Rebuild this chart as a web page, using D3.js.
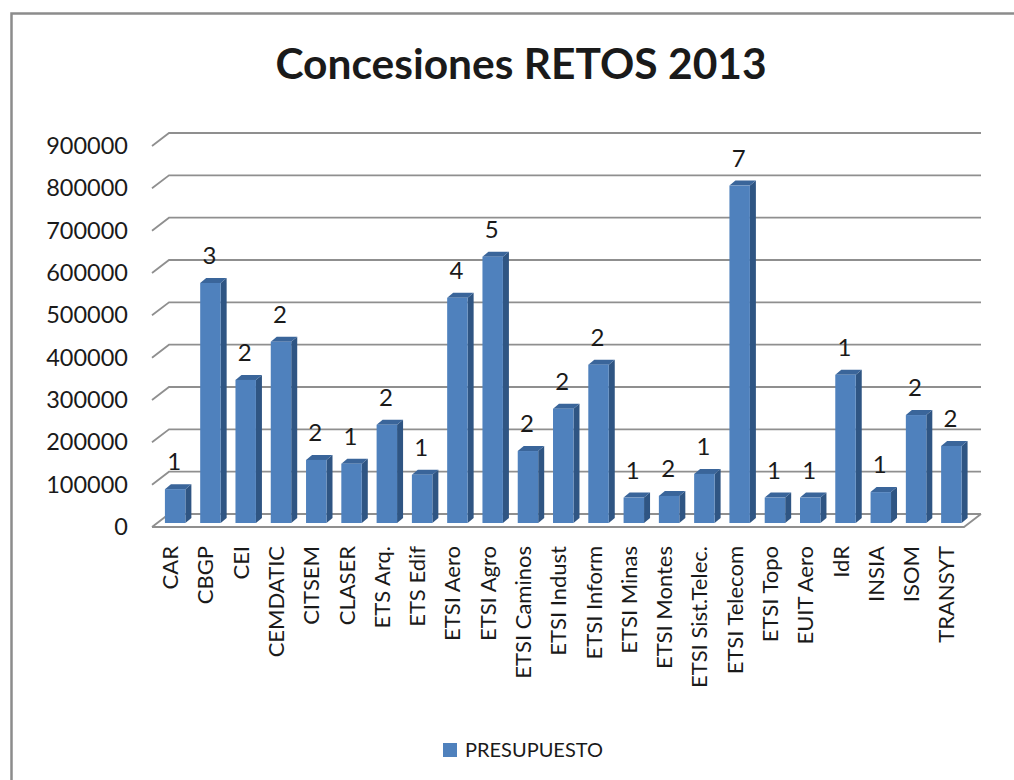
<!DOCTYPE html>
<html><head><meta charset="utf-8">
<script src="https://d3js.org/d3.v7.min.js"></script>
<style>html,body{margin:0;padding:0;background:#fff}svg{display:block}text{font-family:Lato,Carlito,sans-serif;fill:#1a1a1a}</style>
</head><body><svg id="c" width="1014" height="780"></svg>
<script>
const categories=["CAR","CBGP","CEI","CEMDATIC","CITSEM","CLASER","ETS Arq.","ETS Edif","ETSI Aero","ETSI Agro","ETSI Caminos","ETSI Indust","ETSI Inform","ETSI Minas","ETSI Montes","ETSI Sist.Telec.","ETSI Telecom","ETSI Topo","EUIT Aero","IdR","INSIA","ISOM","TRANSYT"];
const presupuesto=[80000,567000,338000,428000,149000,140000,232000,114000,532000,629000,170000,270000,374000,60000,64000,116000,797000,60000,60000,350000,73000,255000,182000];
const concesiones=[1,3,2,2,2,1,2,1,4,5,2,2,2,1,2,1,7,1,1,1,1,2,2];
const yTicks=[0,100000,200000,300000,400000,500000,600000,700000,800000,900000];
const svg=d3.select("#c");
const W=[152,964],DX=17,DY=13;
const x=d3.scaleBand().domain(categories).range([157.5,969]).paddingInner(0.42).paddingOuter(0.21);
const y=d3.scaleLinear().domain([0,900000]).range([527,146]);
svg.append("path").attr("d","M11.5,780V13.5H1014").attr("fill","none").attr("stroke","#8c8c8c").attr("stroke-width",2.5);
svg.append("text").attr("x",521).attr("y",79).attr("text-anchor","middle").attr("font-size",42.5).attr("font-weight",700).text("Concesiones RETOS 2013");
const g=svg.append("g");
yTicks.forEach(t=>{
 g.append("path").attr("d",`M${W[0]},${y(t)}L${W[0]+DX},${y(t)-DY}H${W[1]+DX}`).attr("fill","none").attr("stroke","#8f8f8f").attr("stroke-width",1.8);
 svg.append("text").attr("x",128).attr("y",y(t)+8).attr("text-anchor","end").attr("font-size",23.5).text(d3.format("d")(t));
});
g.append("path").attr("d",`M${W[0]},${y(0)}H${W[1]}L${W[1]+DX},${y(0)-DY}`).attr("fill","none").attr("stroke","#8f8f8f").attr("stroke-width",1.8);
const base=y(0)-4, bw=x.bandwidth(), sd=6, up=5;
const h=v=>y(0)-y(v);
const bars=svg.selectAll("g.b").data(categories).join("g").attr("class","b");
bars.append("path").attr("fill","#2f5583").attr("d",(c,i)=>{const X=x(c)+bw,T=base-h(presupuesto[i]);return `M${X},${T}l${sd},${-up}V${base-up}l${-sd},${up}Z`});
bars.append("path").attr("fill","#3a659a").attr("d",(c,i)=>{const X=x(c),T=base-h(presupuesto[i]);return `M${X},${T}l${sd},${-up}h${bw}l${-sd},${up}Z`});
bars.append("rect").attr("x",c=>x(c)).attr("width",bw).attr("y",(c,i)=>base-h(presupuesto[i])).attr("height",(c,i)=>h(presupuesto[i])).attr("fill","#4f81bd");
bars.append("text").attr("x",c=>x(c)+bw/2-1).attr("y",(c,i)=>base-h(presupuesto[i])-19).attr("text-anchor","middle").attr("font-size",24).text((c,i)=>concesiones[i]);
svg.selectAll("text.cat").data(categories).join("text").attr("class","cat").attr("font-size",22).attr("text-anchor","end")
 .attr("transform",c=>`translate(${x(c)+bw/2+3},546) rotate(-90)`).text(c=>c);
svg.append("rect").attr("x",443).attr("y",743).attr("width",14).attr("height",14).attr("fill","#4f81bd");
svg.append("text").attr("x",465).attr("y",757).attr("font-size",20).text("PRESUPUESTO");
</script></body></html>
